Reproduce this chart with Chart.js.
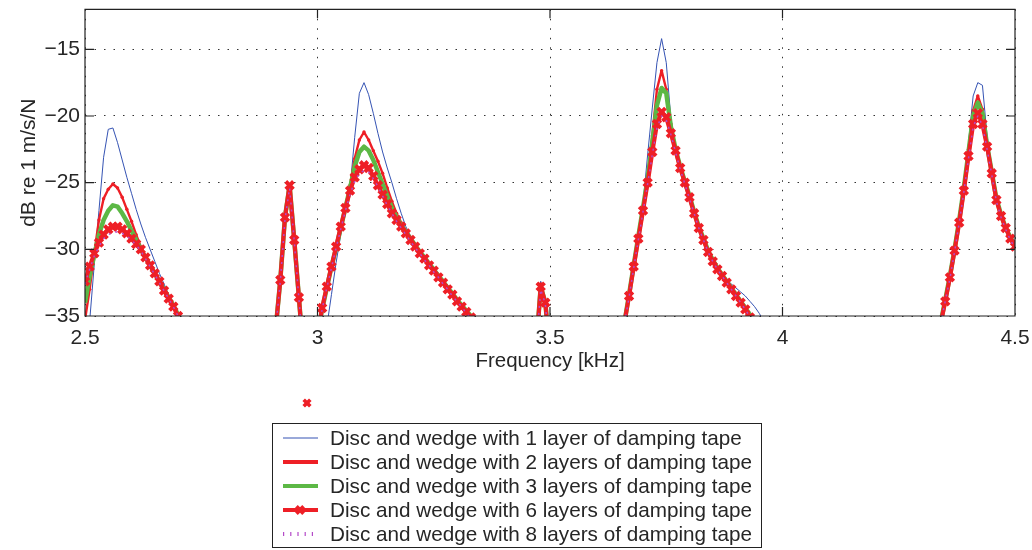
<!DOCTYPE html>
<html>
<head>
<meta charset="utf-8">
<script src="https://cdn.jsdelivr.net/npm/chart.js@4/dist/chart.umd.min.js"></script>
<style>
  html, body { margin: 0; padding: 0; background: #fff; }
  canvas { display: block; }
</style>
</head>
<body>
<canvas id="grafico" width="1032" height="550"></canvas>
<script>
const d = document;

//Frequencies [kHz] (only the stretches that reach above -35 dB)
const freq = [
  2.50, 2.51, 2.52, 2.53, 2.54, 2.55, 2.56, 2.57, 2.58, 2.59, 2.60, 2.61, 2.62, 2.63, 2.64, 2.65, 2.66, 2.67, 2.68, 2.69, 2.70, 2.71,
  2.90, 2.91, 2.92, 2.93, 2.94, 2.95, 2.96, 2.97,
  3.00, 3.01, 3.02, 3.03, 3.04, 3.05, 3.06, 3.07, 3.08, 3.09, 3.10, 3.11, 3.12, 3.13, 3.14, 3.15, 3.16, 3.17, 3.18, 3.19,
  3.20, 3.21, 3.22, 3.23, 3.24, 3.25, 3.26, 3.27, 3.28, 3.29, 3.30, 3.31, 3.32, 3.33, 3.34,
  3.47, 3.48, 3.49, 3.50,
  3.65, 3.66, 3.67, 3.68, 3.69, 3.70, 3.71, 3.72, 3.73, 3.74, 3.75, 3.76, 3.77, 3.78, 3.79, 3.80,
  3.81, 3.82, 3.83, 3.84, 3.85, 3.86, 3.87, 3.88, 3.89, 3.90, 3.91, 3.92, 3.93, 3.94, 3.95, 3.96,
  4.33, 4.34, 4.35, 4.36, 4.37, 4.38, 4.39, 4.40, 4.41, 4.42, 4.43, 4.44, 4.45, 4.46, 4.47, 4.48, 4.49, 4.50
];

//dB re 1 m/s/N for each damping case
const layer1 = [
  -40, -35.4, -31.1, -27.1, -23.1, -21.0, -20.9, -22.0, -23.3, -24.6, -25.8, -27.0, -28.1, -29.1, -30.0, -30.9, -31.8, -32.6, -33.4, -34.2, -35.0, -35.8,
  -40, -36, -32.3, -27.6, -25.2, -29.3, -33.6, -38,
  -45, -40, -35.8, -33.4, -31.0, -28.9, -27.2, -25.4, -21.6, -18.3, -17.5, -18.4, -19.8, -21.3, -22.7, -23.9, -25.0, -26.2, -27.3, -28.3,
  -29.0, -29.6, -30.1, -30.6, -31.1, -31.5, -32.0, -32.4, -32.9, -33.3, -33.8, -34.2, -34.6, -35.0, -35.5,
  -37.5, -32.4, -34.0, -38,
  -40, -36, -33.7, -31.4, -29.0, -26.6, -22.9, -19.4, -16.0, -14.2, -16.0, -20.2, -22.5, -23.7, -24.8, -26.0,
  -27.1, -28.2, -29.2, -30.0, -30.7, -31.3, -31.9, -32.3, -32.6, -32.9, -33.2, -33.5, -33.9, -34.3, -34.8, -35.4,
  -38, -35.5, -33.8, -32.0, -30.0, -27.8, -25.4, -22.0, -18.5, -17.5, -17.7, -21.5, -24.0, -26.1, -27.3, -28.3, -29.0, -29.6
];
const layer2 = [
  -35.3, -33.0, -30.3, -27.8, -26.2, -25.5, -25.1, -25.4, -26.1, -27.0, -27.9, -28.9, -29.8, -30.6, -31.3, -31.9, -32.6, -33.2, -33.8, -34.4, -35.0, -35.7,
  -40, -36, -32.3, -27.6, -25.2, -29.3, -33.6, -38,
  -36.3, -34.5, -32.9, -31.3, -29.9, -28.4, -26.9, -25.2, -23.2, -21.8, -21.2, -21.8, -22.6, -23.4, -24.3, -25.4, -26.4, -27.3, -28.0, -28.6,
  -29.1, -29.6, -30.1, -30.6, -31.0, -31.5, -31.9, -32.4, -32.8, -33.3, -33.7, -34.2, -34.6, -35.0, -35.5,
  -37.5, -32.6, -34.0, -38,
  -38.5, -35.5, -33.4, -31.2, -29.0, -26.9, -24.5, -21.5, -18.0, -16.6, -18.0, -20.6, -22.4, -23.7, -24.9, -26.0,
  -27.2, -28.3, -29.2, -30.1, -30.8, -31.4, -31.9, -32.4, -32.9, -33.4, -33.9, -34.4, -34.9, -35.5, -36.5, -38,
  -38, -35.5, -33.8, -32.0, -30.0, -27.8, -25.4, -22.5, -19.6, -18.5, -19.5, -22.0, -24.1, -26.2, -27.4, -28.4, -29.1, -29.7
];
const layer3 = [
  -34.0, -32.0, -30.4, -28.9, -27.8, -27.1, -26.7, -26.8, -27.3, -27.9, -28.6, -29.3, -30.0, -30.6, -31.2, -31.8, -32.4, -33.0, -33.6, -34.2, -34.9, -35.6,
  -40, -36, -32.3, -27.6, -25.2, -29.3, -33.6, -38,
  -36.3, -34.5, -32.9, -31.3, -29.9, -28.4, -26.9, -25.4, -23.8, -22.7, -22.3, -22.6, -23.3, -24.2, -25.1, -26.0, -26.9, -27.6, -28.2, -28.7,
  -29.2, -29.7, -30.2, -30.6, -31.1, -31.5, -32.0, -32.4, -32.9, -33.3, -33.8, -34.2, -34.6, -35.0, -35.5,
  -37.5, -32.8, -34.0, -38,
  -38.5, -35.5, -33.4, -31.2, -29.0, -26.9, -24.7, -22.0, -19.2, -17.9, -18.3, -20.8, -22.5, -23.8, -24.9, -26.0,
  -27.2, -28.3, -29.2, -30.1, -30.8, -31.4, -31.9, -32.4, -32.9, -33.4, -33.9, -34.4, -34.9, -35.5, -36.5, -38,
  -38, -35.5, -33.8, -32.0, -30.0, -27.8, -25.4, -22.7, -20.0, -19.0, -19.8, -22.2, -24.2, -26.2, -27.4, -28.4, -29.1, -29.7
];
const layer6 = [
  -32.4, -31.3, -30.3, -29.5, -28.9, -28.5, -28.3, -28.3, -28.5, -28.8, -29.2, -29.6, -30.0, -30.6, -31.2, -31.8, -32.4, -33.1, -33.7, -34.3, -35.0, -35.7,
  -40, -36, -32.3, -27.6, -25.2, -29.3, -33.6, -38,
  -36.5, -34.4, -32.8, -31.3, -29.8, -28.3, -26.9, -25.6, -24.6, -24.0, -23.7, -23.9, -24.5, -25.2, -25.9, -26.6, -27.3, -27.8, -28.3, -28.8,
  -29.3, -29.8, -30.3, -30.7, -31.2, -31.6, -32.1, -32.5, -33.0, -33.4, -33.9, -34.3, -34.7, -35.1, -35.6,
  -37.5, -32.8, -34.0, -38,
  -38.5, -35.5, -33.5, -31.3, -29.2, -27.1, -25.0, -22.7, -20.6, -19.7, -20.1, -21.3, -22.6, -23.9, -25.0, -26.1,
  -27.3, -28.4, -29.3, -30.2, -30.9, -31.5, -32.0, -32.5, -33.0, -33.5, -34.0, -34.5, -35.1, -35.7, -37, -38,
  -38, -35.6, -33.9, -32.1, -30.1, -28.0, -25.6, -23.0, -20.6, -19.8, -20.6, -22.3, -24.3, -26.3, -27.5, -28.4, -29.2, -29.8
];
const layer8 = [
  -32.6, -31.5, -30.5, -29.8, -29.2, -28.9, -28.7, -28.7, -28.8, -29.0, -29.3, -29.7, -30.1, -30.7, -31.3, -31.9, -32.5, -33.1, -33.7, -34.3, -35.0, -35.7,
  -40, -36, -32.4, -27.8, -25.4, -29.4, -33.7, -38,
  -36.6, -34.5, -32.9, -31.4, -29.9, -28.5, -27.1, -25.9, -24.9, -24.3, -24.1, -24.2, -24.7, -25.3, -26.0, -26.7, -27.3, -27.9, -28.4, -28.9,
  -29.4, -29.9, -30.3, -30.8, -31.2, -31.7, -32.1, -32.6, -33.0, -33.5, -33.9, -34.3, -34.8, -35.2, -35.6,
  -37.5, -33.0, -34.1, -38,
  -38.5, -35.6, -33.6, -31.4, -29.3, -27.2, -25.1, -22.9, -20.9, -20.0, -20.3, -21.4, -22.7, -24.0, -25.1, -26.2,
  -27.3, -28.4, -29.3, -30.2, -30.9, -31.5, -32.0, -32.5, -33.0, -33.5, -34.0, -34.5, -35.1, -35.7, -37, -38,
  -38, -35.6, -33.9, -32.2, -30.2, -28.0, -25.7, -23.2, -20.8, -20.0, -20.7, -22.5, -24.4, -26.4, -27.6, -28.5, -29.3, -29.9
];

const labels = [
  "Disc and wedge with 1 layer of damping tape",
  "Disc and wedge with 2 layers of damping tape",
  "Disc and wedge with 3 layers of damping tape",
  "Disc and wedge with 6 layers of damping tape",
  "Disc and wedge with 8 layers of damping tape"
];
const xTicks = [2.5, 3, 3.5, 4, 4.5];
const yTicks = [-35, -30, -25, -20, -15];

//Estilos
const fuente = '"Liberation Sans", Arial, Helvetica, sans-serif',
  texto = '#262626',
  azul = '#3553b3',
  rojo = '#ee1f26',
  verde = '#5cb845',
  magenta = '#b44ac8';

const toXY = (arr) => freq.map((f, i) => ({ x: f, y: arr[i] }));

//Draws an "x" marker by hand (legend only)
const cruz = (ctx, x, y, r, color, w) => {
  ctx.save();
  ctx.strokeStyle = color;
  ctx.lineWidth = w;
  ctx.beginPath();
  ctx.moveTo(x - r, y - r); ctx.lineTo(x + r, y + r);
  ctx.moveTo(x - r, y + r); ctx.lineTo(x + r, y - r);
  ctx.stroke();
  ctx.restore();
};

//Box, inner ticks and the boxed legend (MATLAB look)
const marco = {
  id: 'marco',
  afterDatasetsDraw(chart) {
    const { ctx, chartArea: a, scales: { x, y } } = chart;
    const tl = 9;
    ctx.save();
    ctx.strokeStyle = '#222';
    ctx.lineWidth = 1.2;
    ctx.beginPath();
    ctx.rect(a.left, a.top, a.right - a.left, a.bottom - a.top);
    xTicks.forEach(v => {
      const px = x.getPixelForValue(v);
      ctx.moveTo(px, a.bottom); ctx.lineTo(px, a.bottom - tl);
      ctx.moveTo(px, a.top); ctx.lineTo(px, a.top + tl);
    });
    yTicks.forEach(v => {
      const py = y.getPixelForValue(v);
      ctx.moveTo(a.left, py); ctx.lineTo(a.left + tl, py);
      ctx.moveTo(a.right, py); ctx.lineTo(a.right - tl, py);
    });
    ctx.stroke();
    ctx.restore();
  },
  afterDraw(chart) {
    const { ctx } = chart;
    const box = { x: 272, y: 423, w: 489, h: 124, row: 24 };
    ctx.save();
    //stray marker above the legend
    cruz(ctx, box.x + 35, box.y - 20, 3.3, rojo, 3.6);
    ctx.fillStyle = '#fff';
    ctx.fillRect(box.x, box.y, box.w, box.h);
    ctx.strokeStyle = '#222';
    ctx.lineWidth = 1;
    ctx.strokeRect(box.x + 0.5, box.y + 0.5, box.w, box.h);
    ctx.font = '20.7px ' + fuente;
    ctx.textBaseline = 'middle';
    ctx.fillStyle = texto;
    chart.data.datasets.forEach((ds, i) => {
      const yRow = box.y + 15 + i * box.row;
      ctx.save();
      ctx.strokeStyle = ds.borderColor;
      ctx.lineWidth = ds.legendWidth || ds.borderWidth;
      ctx.setLineDash(ds.legendDash || ds.borderDash || []);
      ctx.beginPath();
      ctx.moveTo(box.x + 11, yRow);
      ctx.lineTo(box.x + 46, yRow);
      ctx.stroke();
      ctx.restore();
      if (ds.pointStyle === 'crossRot') cruz(ctx, box.x + 28, yRow, 3.6, rojo, 3.8);
      ctx.fillText(ds.label, box.x + 58, yRow + 1);
    });
    ctx.restore();
  }
};

const datasets = [
  { label: labels[0], data: toXY(layer1), borderColor: azul, borderWidth: 1, pointRadius: 0, order: 4 },
  { label: labels[1], data: toXY(layer2), borderColor: rojo, borderWidth: 2.4, legendWidth: 4, pointRadius: 1.7,
    pointStyle: 'circle', pointBackgroundColor: rojo, pointBorderColor: rojo, pointBorderWidth: 0, order: 3 },
  { label: labels[2], data: toXY(layer3), borderColor: verde, borderWidth: 4.5, legendWidth: 4, pointRadius: 0, order: 2 },
  { label: labels[3], data: toXY(layer6), borderColor: rojo, borderWidth: 4.2, pointRadius: 5.4,
    pointStyle: 'crossRot', pointBorderColor: rojo, pointBackgroundColor: rojo, pointBorderWidth: 3.9, order: 1 },
  { label: labels[4], data: toXY(layer8), borderColor: magenta, borderWidth: 1.5, borderDash: [2, 5],
    legendWidth: 4, legendDash: [1.2, 6], pointRadius: 0, order: 0 }
];

const grafico = new Chart(d.getElementById('grafico'), {
  type: 'line',
  data: { datasets: datasets.map(ds => Object.assign({ fill: false, tension: 0, clip: 0, borderJoinStyle: 'round' }, ds)) },
  options: {
    responsive: false,
    animation: false,
    devicePixelRatio: 1,
    events: [],
    layout: { padding: { top: 7, right: 17, bottom: 174, left: 0 } },
    plugins: { legend: { display: false }, tooltip: { enabled: false } },
    scales: {
      x: {
        type: 'linear', min: 2.5, max: 4.5,
        afterBuildTicks: (s) => { s.ticks = xTicks.map(v => ({ value: v })); },
        afterFit: (s) => { s.height = 60; s.paddingLeft = 0; s.paddingRight = 0; },
        ticks: { autoSkip: false, maxRotation: 0, padding: 10, color: texto, font: { size: 21, family: fuente },
          callback: (v) => String(v) },
        grid: { color: '#333', lineWidth: 1, drawTicks: false },
        border: { display: false, dash: [1.5, 8] },
        title: { display: true, text: 'Frequency [kHz]', color: texto, font: { size: 20.5, family: fuente },
          padding: { top: 0, bottom: 2 } }
      },
      y: {
        type: 'linear', min: -35, max: -12,
        afterBuildTicks: (s) => { s.ticks = yTicks.map(v => ({ value: v })); },
        afterFit: (s) => { s.width = 85; s.paddingTop = 0; s.paddingBottom = 0; },
        ticks: { padding: 5, color: texto, font: { size: 21, family: fuente },
          callback: (v) => (v < 0 ? '\u2212' : '') + Math.abs(v) },
        grid: { color: '#333', lineWidth: 1, drawTicks: false },
        border: { display: false, dash: [1.5, 8] },
        title: { display: true, text: 'dB re 1 m/s/N', color: texto, font: { size: 21, family: fuente },
          padding: { top: 17, bottom: 0 } }
      }
    }
  },
  plugins: [marco]
});
</script>
</body>
</html>
